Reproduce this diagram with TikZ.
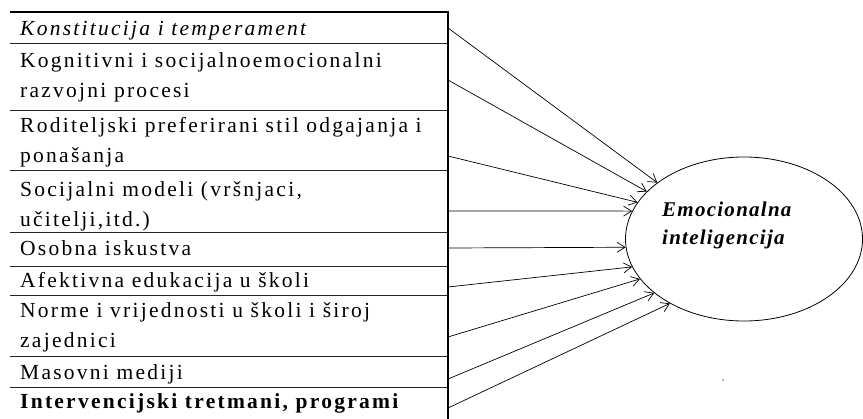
\documentclass[tikz,border=0pt]{standalone}
\usepackage{fontspec}
\setmainfont{Liberation Serif}
\newfontfamily\rowfont{Liberation Serif}[LetterSpace=10.5]
\newfontfamily\elfont{Liberation Serif}[LetterSpace=6]
\usetikzlibrary{shapes.geometric,arrows.meta}
\begin{document}
\begin{tikzpicture}[x=1pt,y=-1pt,
  rowtext/.style={anchor=base west, inner sep=0, align=left, font=\rowfont\fontsize{21.5}{30}\selectfont},
  rule/.style={line width=1pt, draw=black!85},
  arr/.style={-{Straight Barb[length=8pt,width=10pt]}, line width=0.7pt}]
\useasboundingbox (0,0) rectangle (863,419);
% table rules
\draw[line width=2pt] (10,12) -- (448,12);
\foreach \yy in {44,111,171,233,267,296,357,388}
  \draw[rule] (10,\yy) -- (448,\yy);
\draw[line width=1.2pt] (448,11) -- (448,419);
% row texts (base = baseline of the last line)
\node[rowtext] (r1) at (20,36) {\itshape Konstitucija i temperament};
\node[rowtext] (r2) at (20,98) {Kognitivni i socijalnoemocionalni\\razvojni procesi};
\node[rowtext] (r3) at (20,163) {Roditeljski preferirani stil odgajanja i\\ponašanja};
\node[rowtext] (r4) at (20,227) {Socijalni modeli (vršnjaci,\\učitelji,itd.)};
\node[rowtext] (r5) at (20,256) {Osobna iskustva};
\node[rowtext] (r6) at (20,288) {Afektivna edukacija u školi};
\node[rowtext] (r7) at (20,348) {Norme i vrijednosti u školi i široj\\zajednici};
\node[rowtext] (r8) at (20,380) {Masovni mediji};
\node[rowtext] (r9) at (20,409) {\bfseries Intervencijski tretmani, programi};
% ellipse
\node[ellipse, draw, line width=0.8pt, minimum width=237pt, minimum height=164pt, inner sep=0] (e) at (744,239) {};
\node[anchor=base west, inner sep=0, align=left, font=\elfont\bfseries\itshape\fontsize{21}{28}\selectfont] (et) at (662,245) {Emocionalna\\inteligencija};
% arrow starts
\coordinate (s1) at (448,28);
\coordinate (s2) at (448,80);
\coordinate (s3) at (448,156);
\coordinate (s4) at (448,211);
\coordinate (s5) at (448,248);
\coordinate (s6) at (448,287);
\coordinate (s7) at (448,337);
\coordinate (s8) at (448,379);
\coordinate (s9) at (448,408);
\draw[arr] (s1) -- (e.147);
\draw[arr] (s2) -- (e.154);
\draw[arr] (s3) -- (e.161);
\draw[arr] (s4) -- (e.166);
\draw[arr] (s5) -- (e.184.5);
\draw[arr] (s6) -- (e.194.5);
\draw[arr] (s7) -- (e.201);
\draw[arr] (s8) -- (e.211);
\draw[arr] (s9) -- (e.221);
\fill[black!60] (723,380) circle (0.9pt);
\end{tikzpicture}
\end{document}
